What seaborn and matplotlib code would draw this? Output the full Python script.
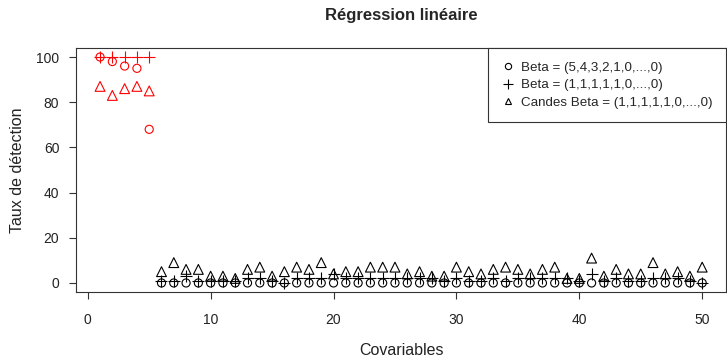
import numpy as np
import pandas as pd
import matplotlib
matplotlib.use("Agg")
import matplotlib.pyplot as plt
from matplotlib.lines import Line2D
import seaborn as sns

# ---- data ----
covariables = list(range(1, 51))
beta_54321 = [100, 98, 96, 95, 68] + [0] * 45
beta_11111 = [100, 100, 100, 100, 100,
              1, 1, 3, 1, 1, 1, 1, 2, 2, 1, 0, 2, 2, 2, 4,
              2, 2, 2, 2, 2, 2, 2, 2, 1, 2, 1, 1, 2, 1, 2,
              2, 2, 2, 2, 1, 4, 1, 2, 1, 1, 2, 2, 2, 1, 0]
candes_11111 = [87, 83, 86, 87, 85,
                5, 9, 6, 6, 3, 3, 2, 6, 7, 3, 5, 7, 6, 9, 4,
                5, 5, 7, 7, 7, 4, 5, 3, 3, 7, 5, 4, 6, 7, 6,
                4, 6, 7, 2, 2, 11, 3, 6, 4, 4, 9, 4, 5, 3, 7]
legend_labels = ["Beta = (5,4,3,2,1,0,...,0)",
                 "Beta = (1,1,1,1,1,0,...,0)",
                 "Candes Beta = (1,1,1,1,1,0,...,0)"]
n_signal = 5

sns.set_theme(style="white")
plt.rcParams["font.family"] = ["Liberation Sans", "DejaVu Sans"]

df = pd.DataFrame({"x": covariables, "c": beta_54321, "p": beta_11111, "t": candes_11111})
df["grp"] = np.where(df["x"] <= n_signal, "signal", "noise")
colors = {"signal": "#FF0000", "noise": "#000000"}

fig = plt.figure(figsize=(7.27, 3.6), dpi=100)
ax = fig.add_axes([0.1045, 0.1889, 0.8945, 0.6778])

for g, col in colors.items():
    sub = df[df["grp"] == g]
    sns.scatterplot(data=sub, x="x", y="c", ax=ax, marker="o", s=34,
                    facecolors="none", edgecolors=col, linewidth=0.8, legend=False)
    sns.scatterplot(data=sub, x="x", y="p", ax=ax, marker="+", s=75,
                    color=col, linewidth=0.8, legend=False)
    sns.scatterplot(data=sub, x="x", y="t", ax=ax, marker="^", s=50,
                    facecolors="none", edgecolors=col, linewidth=0.8, legend=False)

ax.set_xlim(-0.96, 51.96)
ax.set_ylim(-4, 104)
ax.set_xticks([0, 10, 20, 30, 40, 50])
ax.set_yticks([0, 20, 40, 60, 80, 100])
ax.tick_params(axis="both", direction="out", length=5, width=0.8, colors="#333333",
               labelsize=10, labelcolor="#222222", left=True, bottom=True)
ax.tick_params(axis="x", pad=10)
ax.tick_params(axis="y", pad=7)
for sp in ax.spines.values():
    sp.set_color("#333333")
    sp.set_linewidth(0.8)

ax.set_xlabel("Covariables", fontsize=11.5, color="#222222", labelpad=12)
ax.set_ylabel("Taux de détection", fontsize=11.5, color="#222222", labelpad=8)
ax.set_title("Régression linéaire", fontsize=12, fontweight="bold", pad=20)

handles = [
    Line2D([], [], linestyle="none", marker="o", markersize=4.5, markerfacecolor="none",
           markeredgecolor="black", markeredgewidth=0.8),
    Line2D([], [], linestyle="none", marker="+", markersize=7, color="black",
           markeredgewidth=0.8),
    Line2D([], [], linestyle="none", marker="^", markersize=5, markerfacecolor="none",
           markeredgecolor="black", markeredgewidth=0.8),
]
leg = ax.legend(handles, legend_labels, loc="upper right", borderaxespad=0,
                fancybox=False, framealpha=1, edgecolor="#333333", fontsize=9.6,
                handlelength=1.0, handletextpad=0.5, labelspacing=0.4,
                borderpad=1.0)
leg.get_frame().set_linewidth(0.8)

fig.savefig("out.png", dpi=100)
